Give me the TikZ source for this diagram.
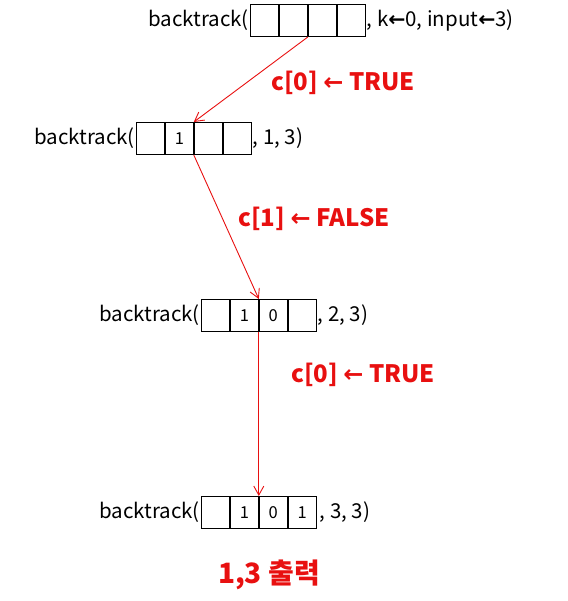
\documentclass[tikz,border=0pt]{standalone}
\usepackage{fontspec}
\setmainfont{Noto Sans CJK KR}
\newfontfamily\arrowfont{DejaVu Sans}
\newcommand{\larr}{{\arrowfont\bfseries ←}}
\usetikzlibrary{arrows.meta}
\definecolor{lblred}{RGB}{232,16,16}
\tikzset{
  cell/.style={draw=black, line width=1pt, minimum width=27.9pt, minimum height=32pt, inner sep=0pt, font=\fontsize{16.5}{16.5}\selectfont},
  calltext/.style={inner sep=0pt, font=\fontsize{20.5}{20.5}\selectfont},
  redlabel/.style={inner sep=0pt, text=lblred, font=\fontsize{24}{24}\selectfont\bfseries},
  outlabel/.style={inner sep=0pt, text=lblred, font=\fontsize{28}{28}\selectfont\bfseries},
  call/.style={draw=lblred, line width=0.9pt, -{Straight Barb[length=9pt,width=10pt,line width=0.9pt]}}
}
\begin{document}
\begin{tikzpicture}[x=1pt,y=-1pt]
\useasboundingbox (0,0) rectangle (567,601);
% row 1
\node[cell, anchor=west] (a1) at (250,20.5) {};
\node[cell, anchor=west] (a2) at (a1.east) {};
\node[cell, anchor=west] (a3) at (a2.east) {};
\node[cell, anchor=west] (a4) at (a3.east) {};
\node[calltext, anchor=east] (ta) at ([xshift=-1pt]a1.west) {backtrack(};
\node[calltext, anchor=west] (ea) at ([xshift=1pt]a4.east) {, k\larr 0, input\larr 3)};
% row 2
\node[cell, anchor=west] (b1) at (136,138.5) {};
\node[cell, anchor=west] (b2) at (b1.east) {1};
\node[cell, anchor=west] (b3) at (b2.east) {};
\node[cell, anchor=west] (b4) at (b3.east) {};
\node[calltext, anchor=east] (tb) at ([xshift=-1pt]b1.west) {backtrack(};
\node[calltext, anchor=west] (eb) at ([xshift=1pt]b4.east) {, 1, 3)};
% row 3
\node[cell, anchor=west] (c1) at (201,315.5) {};
\node[cell, anchor=west] (c2) at (c1.east) {1};
\node[cell, anchor=west] (c3) at (c2.east) {0};
\node[cell, anchor=west] (c4) at (c3.east) {};
\node[calltext, anchor=east] (tc) at ([xshift=-1pt]c1.west) {backtrack(};
\node[calltext, anchor=west] (ec) at ([xshift=1pt]c4.east) {, 2, 3)};
% row 4
\node[cell, anchor=west] (d1) at (201,512.5) {};
\node[cell, anchor=west] (d2) at (d1.east) {1};
\node[cell, anchor=west] (d3) at (d2.east) {0};
\node[cell, anchor=west] (d4) at (d3.east) {1};
\node[calltext, anchor=east] (td) at ([xshift=-1pt]d1.west) {backtrack(};
\node[calltext, anchor=west] (ed) at ([xshift=3pt]d4.east) {, 3, 3)};
% connectors
\draw[call] (a2.south east) -- (b2.north east);
\draw[call] (b2.south east) -- (c2.north east);
\draw[call] (c2.south east) -- (d2.north east);
% labels
\node[redlabel] (l1) at (343,83) {c[0] \larr\ TRUE};
\node[redlabel] (l2) at (314,219) {c[1] \larr\ FALSE};
\node[redlabel] (l3) at (363,375) {c[0] \larr\ TRUE};
\node[outlabel] (l4) at (269,575) {1,3 출력};
\end{tikzpicture}
\end{document}
